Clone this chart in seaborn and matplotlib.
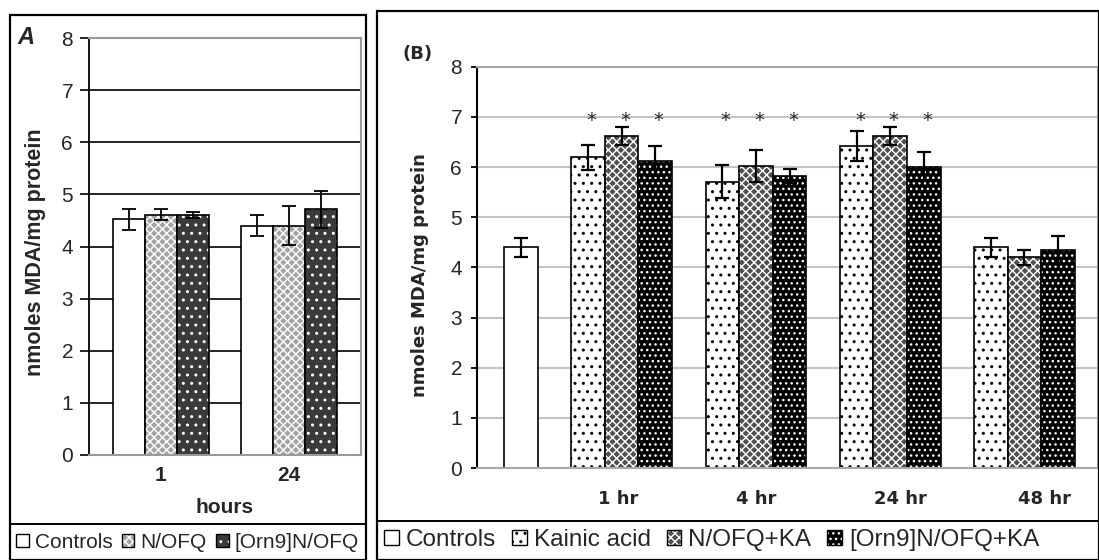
import matplotlib
matplotlib.use("Agg")
import matplotlib.pyplot as plt
import matplotlib.colors as mcolors
from matplotlib.patches import Patch, Rectangle
from matplotlib.lines import Line2D
import pandas as pd
import seaborn as sns

# ---------------- data ----------------
# Panel A: MDA after N/OFQ or [Orn9]N/OFQ alone
a_hours = ["1", "24"]
a_groups = ["Controls", "N/OFQ", "[Orn9]N/OFQ"]
a_mean_controls = [4.52, 4.40]
a_sd_controls = [0.20, 0.20]
a_mean_nofq = [4.61, 4.40]
a_sd_nofq = [0.11, 0.38]
a_mean_orn9 = [4.61, 4.71]
a_sd_orn9 = [0.06, 0.35]

# Panel B: MDA after kainic acid, with or without the peptides
b_times = ["1 hr", "4 hr", "24 hr", "48 hr"]
b_groups = ["Controls", "Kainic acid", "N/OFQ+KA", "[Orn9]N/OFQ+KA"]
b_mean_controls = 4.40
b_sd_controls = 0.19
b_mean_ka = [6.19, 5.71, 6.42, 4.40]
b_sd_ka = [0.25, 0.33, 0.30, 0.19]
b_mean_nofq = [6.62, 6.02, 6.62, 4.20]
b_sd_nofq = [0.18, 0.31, 0.18, 0.15]
b_mean_orn9 = [6.12, 5.82, 6.01, 4.34]
b_sd_orn9 = [0.30, 0.14, 0.29, 0.28]
b_significant = [True, True, True, False]

# ---------------- tables ----------------
df_a = pd.DataFrame({
    "hours": a_hours * 3,
    "group": [g for g in a_groups for _ in a_hours],
    "mda": a_mean_controls + a_mean_nofq + a_mean_orn9,
    "sd": a_sd_controls + a_sd_nofq + a_sd_orn9,
})

rows = [{"slot": "Controls", "group": "Controls", "mda": b_mean_controls,
         "sd": b_sd_controls, "sig": False}]
order_b = ["Controls", "_gap0"]
for i, t in enumerate(b_times):
    for g, m, s in zip(b_groups[1:], [b_mean_ka, b_mean_nofq, b_mean_orn9],
                       [b_sd_ka, b_sd_nofq, b_sd_orn9]):
        slot = f"{t} | {g}"
        rows.append({"slot": slot, "group": g, "mda": m[i], "sd": s[i],
                     "sig": b_significant[i]})
        order_b.append(slot)
    if i < len(b_times) - 1:
        order_b.append(f"_gap{i + 1}")
df_b = pd.DataFrame(rows).set_index("slot")

# ---------------- styles ----------------
sns.set_style("white")
plt.rcParams["font.family"] = ["Liberation Sans", "DejaVu Sans"]
plt.rcParams["hatch.linewidth"] = 1.0

W, H = 1099, 560


def px_rect(left, top, right, bottom):
    return [left / W, 1 - bottom / H, (right - left) / W, (bottom - top) / H]


# face colour, hatch, hatch colour
fill_a = {
    "Controls": ("white", None, "black"),
    "N/OFQ": ("#a4a4a4", "xxxx", "white"),
    "[Orn9]N/OFQ": ("#3a3a3a", "..", "white"),
}
fill_b = {
    "Controls": ("white", None, "black"),
    "Kainic acid": ("white", "..", "black"),
    "N/OFQ+KA": ("#505050", "xxxx", "white"),
    "[Orn9]N/OFQ+KA": ("black", "...", "white"),
}


def paint(patch, style, lw=1.2):
    face, hatch, hcol = style
    patch.set_facecolor(face)
    patch.set_edgecolor("black")
    patch.set_linewidth(lw)
    if hatch:
        patch.set_hatch(hatch)
        if hasattr(patch, "set_hatchcolor"):
            patch.set_hatchcolor(hcol)
        else:
            patch._hatch_color = mcolors.to_rgba(hcol)


fig = plt.figure(figsize=(W / 100, H / 100), dpi=100)

# ---------------- panel A ----------------
ax_a = fig.add_axes(px_rect(89, 38, 361, 455))
sns.barplot(data=df_a, x="hours", y="mda", hue="group", order=a_hours,
            hue_order=a_groups, width=0.75, errorbar=None, legend=False,
            palette=["white"] * 3, ax=ax_a)
bw = 0.75 / len(a_groups)
xs, ys, es = [], [], []
for p in ax_a.patches:
    cx = p.get_x() + p.get_width() / 2
    cat = int(round(cx))
    g = a_groups[int(round((cx - cat) / bw)) + 1]
    paint(p, fill_a[g])
    row = df_a[(df_a.hours == a_hours[cat]) & (df_a.group == g)].iloc[0]
    xs.append(cx)
    ys.append(p.get_height())
    es.append(row.sd)
ax_a.errorbar(xs, ys, yerr=es, fmt="none", ecolor="black", elinewidth=1.3,
              capsize=4.7, capthick=1.3, zorder=4)

ax_a.set_xlim(-0.5625, 1.5625)
ax_a.set_ylim(0, 8)
ax_a.set_yticks(range(0, 9))
ax_a.grid(axis="y", color="black", linewidth=1.2)
ax_a.set_axisbelow(True)
for side in ["top", "right", "bottom"]:
    ax_a.spines[side].set_color("#9a9a9a")
    ax_a.spines[side].set_linewidth(1.5)
ax_a.spines["left"].set_color("black")
ax_a.spines["left"].set_linewidth(1.3)
ax_a.tick_params(axis="y", length=6.5, width=1.2, color="black", labelsize=15,
                 pad=5, left=True)
ax_a.tick_params(axis="x", length=0, labelsize=15, pad=8)
for lab in ax_a.get_xticklabels():
    lab.set_fontweight("bold")
ax_a.set_xlabel("hours", fontsize=15, fontweight="bold")
ax_a.xaxis.set_label_coords(0.5, -0.125)
ax_a.xaxis.label.set_va("center")
ax_a.set_ylabel("nmoles MDA/mg protein", fontsize=15.5, fontweight="bold")
ax_a.yaxis.set_label_coords(-0.195, 0.487)
ax_a.yaxis.label.set_va("center")

fig.text(17 / W, 1 - 38 / H, "A", ha="left", va="center", fontsize=17,
         fontweight="bold", fontstyle="italic")

# ---------------- panel B ----------------
ax_b = fig.add_axes(px_rect(477, 66.7, 1098, 468))
sns.barplot(data=df_b.reset_index(), x="slot", y="mda", hue="group",
            order=order_b, hue_order=b_groups, dodge=False, width=1.0,
            errorbar=None, legend=False, palette=["white"] * 4, ax=ax_b)
xs, ys, es = [], [], []
for p in ax_b.patches:
    cx = p.get_x() + p.get_width() / 2
    row = df_b.loc[order_b[int(round(cx))]]
    paint(p, fill_b[row.group])
    xs.append(cx)
    ys.append(p.get_height())
    es.append(row.sd)
    if row.sig:
        ax_b.text(cx + 0.1, 6.93, "*", ha="center", va="center", fontsize=14,
                  family="DejaVu Sans", zorder=5)
ax_b.errorbar(xs, ys, yerr=es, fmt="none", ecolor="black", elinewidth=1.6,
              capsize=4.7, capthick=1.6, zorder=4)

ax_b.set_xlim(-1.31, 17.19)
ax_b.set_ylim(0, 8)
ax_b.set_yticks(range(0, 9))
ax_b.grid(axis="y", color="#c4c4c4", linewidth=1.5)
ax_b.set_axisbelow(True)
for side in ["top", "right", "bottom"]:
    ax_b.spines[side].set_color("#a8a8a8")
    ax_b.spines[side].set_linewidth(1.5)
ax_b.spines["left"].set_color("black")
ax_b.spines["left"].set_linewidth(1.5)
ax_b.tick_params(axis="y", length=4.3, width=1.3, color="black", labelsize=15,
                 pad=6.5, left=True)
# time-point labels sit under the middle bar of each group
label_pos = [order_b.index(f"{t} | {b_groups[2]}") for t in b_times]
label_shift = [-0.1, 0.0, 0.3, 0.6]
ax_b.set_xticks([p + s for p, s in zip(label_pos, label_shift)])
ax_b.set_xticklabels(b_times, fontsize=13, fontweight="bold",
                     family="DejaVu Sans")
ax_b.tick_params(axis="x", length=0, pad=16)
ax_b.set_xlabel("")
ax_b.set_ylabel("nmoles MDA/mg protein", fontsize=13, fontweight="bold",
                family="DejaVu Sans")
ax_b.yaxis.set_label_coords(-0.092, 0.481)
ax_b.yaxis.label.set_va("center")

fig.text(403 / W, 1 - 54 / H, "(B)", ha="left", va="center", fontsize=13,
         fontweight="bold", family="DejaVu Sans")

# ---------------- frames and legends ----------------
def frame(left, top, right, bottom, sep):
    fig.add_artist(Rectangle((left / W, 1 - bottom / H), (right - left) / W,
                             (bottom - top) / H, transform=fig.transFigure,
                             fill=False, edgecolor="black", linewidth=1.6))
    fig.add_artist(Line2D([left / W, right / W], [1 - sep / H, 1 - sep / H],
                          transform=fig.transFigure, color="black",
                          linewidth=1.4))


frame(10, 15, 366, 559.5, 524)
frame(377, 11, 1099, 559.5, 521)


def handles(groups, styles):
    out = []
    for g in groups:
        h = Patch(label=g)
        paint(h, styles[g], lw=1.0)
        out.append(h)
    return out


fig.legend(handles=handles(a_groups, fill_a), loc="center left",
           bbox_to_anchor=(16 / W, 1 - 542 / H), ncol=3, frameon=False,
           fontsize=15, handlelength=0.6, handleheight=0.6, handletextpad=0.3,
           columnspacing=0.45, borderpad=0, borderaxespad=0)
fig.legend(handles=handles(b_groups, fill_b), loc="center left",
           bbox_to_anchor=(384 / W, 1 - 540 / H), ncol=4, frameon=False,
           fontsize=17.5, handlelength=0.6, handleheight=0.6, handletextpad=0.3,
           columnspacing=0.65, borderpad=0, borderaxespad=0)

fig.savefig("out.png", dpi=100)
